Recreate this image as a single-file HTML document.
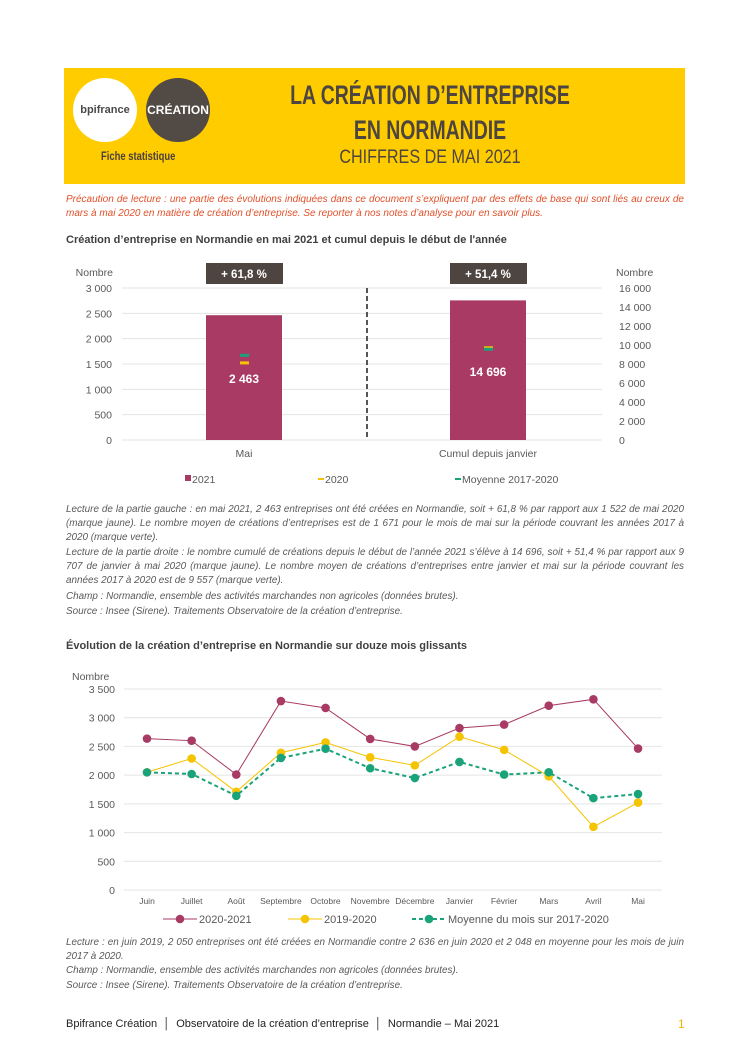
<!DOCTYPE html>
<html><head><meta charset="utf-8">
<style>
body{margin:0;width:750px;height:1061px;background:#fff;position:relative;font-family:"Liberation Sans",sans-serif;overflow:hidden}
.abs{position:absolute}
.note{position:absolute;left:66px;width:618px;font-size:9.9px;font-style:italic;color:#595959;line-height:14px;text-align:justify}
svg text{font-family:"Liberation Sans",sans-serif}
</style></head><body>
<div class="abs" style="left:64px;top:68px;width:621px;height:116px;background:#ffcc00"></div>
<div class="abs" style="left:73px;top:78px;width:64px;height:64px;border-radius:50%;background:#fff;font-weight:bold;font-size:11px;color:#4a4a4a;text-align:center;line-height:64px">bpifrance</div>
<div class="abs" style="left:146px;top:78px;width:64px;height:64px;border-radius:50%;background:#524a45;font-weight:bold;font-size:12px;color:#fff;text-align:center;line-height:64px">CRÉATION</div>
<div class="abs" style="left:101px;top:151px;font-size:11.5px;font-weight:bold;color:#4a4040;transform:scaleX(.82);transform-origin:left">Fiche statistique</div>
<div class="abs" style="left:230px;width:400px;top:78px;text-align:center;font-size:27px;font-weight:bold;color:#4d4540;line-height:35px;transform:scaleX(.72)">LA CRÉATION D’ENTREPRISE<br>EN NORMANDIE</div>
<div class="abs" style="left:230px;width:400px;top:147px;text-align:center;font-size:19px;color:#4d4540;transform:scaleX(.85)">CHIFFRES DE MAI 2021</div>
<div class="note" style="top:193px;color:#e0502a;font-size:10px">Précaution de lecture : une partie des évolutions indiquées dans ce document s’expliquent par des effets de base qui sont liés au creux de mars à mai 2020 en matière de création d’entreprise. Se reporter à nos notes d’analyse pour en savoir plus.</div>
<div class="abs" style="left:66px;top:234px;font-size:11px;font-weight:bold;color:#404040">Création d’entreprise en Normandie en mai 2021 et cumul depuis le début de l'année</div>

<svg class="abs" style="left:0;top:0" width="750" height="1061">
<g id="c1"></g><g id="c2"></g>
</svg>

<div class="note" style="top:503px">Lecture de la partie gauche : en mai 2021, 2 463 entreprises ont été créées en Normandie, soit + 61,8 % par rapport aux 1 522 de mai 2020 (marque jaune). Le nombre moyen de créations d’entreprises est de 1 671 pour le mois de mai sur la période couvrant les années 2017 à 2020 (marque verte).</div>
<div class="note" style="top:546px">Lecture de la partie droite : le nombre cumulé de créations depuis le début de l’année 2021 s’élève à 14 696, soit + 51,4 % par rapport aux 9 707 de janvier à mai 2020 (marque jaune). Le nombre moyen de créations d’entreprises entre janvier et mai sur la période couvrant les années 2017 à 2020 est de 9 557 (marque verte).</div>
<div class="note" style="top:590px">Champ : Normandie, ensemble des activités marchandes non agricoles (données brutes).</div>
<div class="note" style="top:605px">Source : Insee (Sirene). Traitements Observatoire de la création d’entreprise.</div>
<div class="abs" style="left:66px;top:640px;font-size:11px;font-weight:bold;color:#404040">Évolution de la création d’entreprise en Normandie sur douze mois glissants</div>
<div class="note" style="top:936px">Lecture : en juin 2019, 2 050 entreprises ont été créées en Normandie contre 2 636 en juin 2020 et 2 048 en moyenne pour les mois de juin 2017 à 2020.</div>
<div class="note" style="top:964px">Champ : Normandie, ensemble des activités marchandes non agricoles (données brutes).</div>
<div class="note" style="top:979px">Source : Insee (Sirene). Traitements Observatoire de la création d’entreprise.</div>
<div class="abs" style="left:66px;top:1018px;font-size:11px;color:#222">Bpifrance Création &nbsp;│&nbsp; Observatoire de la création d’entreprise &nbsp;│&nbsp; Normandie – Mai 2021</div>
<div class="abs" style="left:678px;top:1017px;font-size:12px;color:#f0b400">1</div>

<script>
const NS="http://www.w3.org/2000/svg";
// Chart 1 data
const c1Cats=["Mai","Cumul depuis janvier"];
const c1Values=[2463,14696];
const c1Prev=[1522,9707];
const c1Avg=[1671,9557];
const c1Badges=["+ 61,8 %","+ 51,4 %"];
const c1LabelsL=["0","500","1 000","1 500","2 000","2 500","3 000"];
const c1TicksL=[0,500,1000,1500,2000,2500,3000];
const c1LabelsR=["0","2 000","4 000","6 000","8 000","10 000","12 000","14 000","16 000"];
const c1TicksR=[0,2000,4000,6000,8000,10000,12000,14000,16000];
// Chart 2 data
const months=["Juin","Juillet","Août","Septembre","Octobre","Novembre","Décembre","Janvier","Février","Mars","Avril","Mai"];
const s2021=[2636,2600,2010,3290,3170,2630,2500,2820,2880,3210,3320,2463];
const s2020=[2050,2290,1710,2390,2570,2310,2170,2670,2440,1980,1100,1522];
const sAvg=[2048,2020,1640,2300,2460,2120,1950,2230,2010,2050,1600,1671];
const c2Ticks=[0,500,1000,1500,2000,2500,3000,3500];
const c2Labels=["0","500","1 000","1 500","2 000","2 500","3 000","3 500"];

function el(p,t,a,txt){const e=document.createElementNS(NS,t);for(const k in a)e.setAttribute(k,a[k]);if(txt!=null)e.textContent=txt;p.appendChild(e);return e;}
const g1=document.getElementById('c1'), g2=document.getElementById('c2');
const y1L=v=>440-v/3000*152, y1R=v=>440-v/16000*152;
const scales=[y1L,y1R];
c1TicksL.forEach((v,i)=>{
  const l=el(g1,'line',{x1:122,x2:602,y1:y1L(v),y2:y1L(v),stroke:'#e4e4e4','stroke-width':1});
  
  const t=el(g1,'text',{x:112,y:y1L(v)+4,'text-anchor':'end','font-size':10.5,fill:'#595959'},c1LabelsL[i]);
  
});
c1TicksR.forEach((v,i)=>{
  const t=el(g1,'text',{x:619,y:y1R(v)+4,'font-size':10.5,fill:'#595959'},c1LabelsR[i]);
  
});
let t=el(g1,'text',{x:113,y:276,'text-anchor':'end','font-size':10.5,fill:'#595959'},'Nombre');

t=el(g1,'text',{x:616,y:276,'font-size':10.5,fill:'#595959'},'Nombre');

let d=el(g1,'line',{x1:367,x2:367,y1:288,y2:440,stroke:'#555','stroke-width':2,'stroke-dasharray':'5,3'});

const cx=[244,488];
c1Cats.forEach((c,i)=>{
  const y=scales[i];
  const b=el(g1,'rect',{x:cx[i]-38,y:y(c1Values[i]),width:76,height:440-y(c1Values[i]),fill:'#a83a64'});
  
  const mp=el(g1,'rect',{x:cx[i]-4,y:y(c1Prev[i])-1.5,width:9,height:3,fill:'#f5c400'});
  
  const ma=el(g1,'rect',{x:cx[i]-4,y:y(c1Avg[i])-1.5,width:9,height:3,fill:'#1aa37a'});
  
  const v=el(g1,'text',{x:cx[i],y:(i==0?383:376),'text-anchor':'middle','font-size':12,'font-weight':'bold',fill:'#fff'},c1Values[i].toLocaleString('fr-FR').replace(/\s/g,' '));
  
  const bg=el(g1,'rect',{x:cx[i]-38,y:263,width:77,height:21,fill:'#4e4440'});
  
  const bt=el(g1,'text',{x:cx[i],y:278,'text-anchor':'middle','font-size':11.5,'font-weight':'bold',fill:'#fff'},c1Badges[i]);
  
  const xl=el(g1,'text',{x:cx[i],y:457,'text-anchor':'middle','font-size':10.5,fill:'#595959'},c);
  
});
[[185,'#a83a64','2021','sq'],[318,'#f5c400','2020','ln'],[455,'#1aa37a','Moyenne 2017-2020','ln']].forEach(([x,c,l,k])=>{
  const m=k=='sq'?el(g1,'rect',{x:x,y:475,width:6,height:6,fill:c}):el(g1,'rect',{x:x,y:478,width:6,height:2,fill:c});
  
  const tt=el(g1,'text',{x:x+7,y:483,'font-size':10.5,fill:'#595959'},l);
  
});
const y2=v=>890-v/3500*201, x2=i=>147+i*44.64;
c2Ticks.forEach((v,i)=>{
  const l=el(g2,'line',{x1:124,x2:662,y1:y2(v),y2:y2(v),stroke:'#e4e4e4','stroke-width':1});
  
  const tx=el(g2,'text',{x:115,y:y2(v)+4,'text-anchor':'end','font-size':10.5,fill:'#595959'},c2Labels[i]);
  
});
t=el(g2,'text',{x:72,y:680,'font-size':10.5,fill:'#595959'},'Nombre');

months.forEach((m,i)=>{
  const tx=el(g2,'text',{x:x2(i),y:904,'text-anchor':'middle','font-size':8.5,fill:'#595959'},m);
  
});
[[s2021,'#a83a64',null,'series-2020-2021'],[s2020,'#f5c400',null,'series-2019-2020'],[sAvg,'#1aa37a','4,3','series-average']].forEach(([s,c,da,n])=>{
  const a={points:s.map((v,i)=>x2(i)+','+y2(v)).join(' '),fill:'none',stroke:c,'stroke-width':da?2:1};
  if(da)a['stroke-dasharray']=da;
  const p=el(g2,'polyline',a);
  
  s.forEach((v,i)=>{
    const pt=el(g2,'circle',{cx:x2(i),cy:y2(v),r:4.3,fill:c});
    
  });
});
[[163,'#a83a64',null,'2020-2021'],[288,'#f5c400',null,'2019-2020'],[412,'#1aa37a','4,3','Moyenne du mois sur 2017-2020']].forEach(([x,c,da,l])=>{
  const a={x1:x,x2:x+34,y1:919,y2:919,stroke:c,'stroke-width':da?2:1};if(da)a['stroke-dasharray']=da;
  const ln=el(g2,'line',a);
  const ci=el(g2,'circle',{cx:x+17,cy:919,r:4.3,fill:c});
  const tx=el(g2,'text',{x:x+36,y:923,'font-size':11,fill:'#595959'},l);
  
});
</script>
</body></html>
